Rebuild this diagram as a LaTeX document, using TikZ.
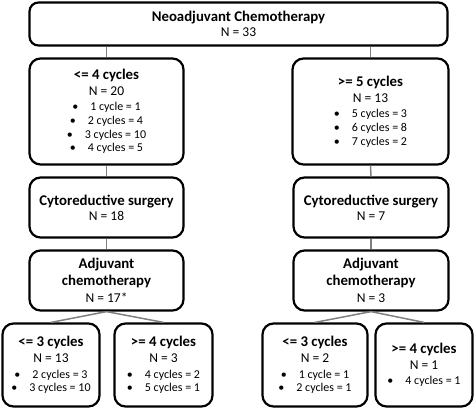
\documentclass[tikz,border=0pt]{standalone}
\usepackage{fontspec}
\setmainfont{Carlito}
\newcommand\boxtitle[1]{{\fontsize{14.8}{16}\selectfont\bfseries #1}}
\newcommand\nline[1]{{\fontsize{13.5}{15}\selectfont #1}}
\newcommand\bul[1]{{\fontsize{12}{13.7}\selectfont\textbullet\hspace{12pt}#1}}
\tikzset{
  box/.style={draw=black, line width=2.2pt, rounded corners=11pt, inner sep=0pt,
    align=center, font=\fontsize{11.5}{13.7}\selectfont},
  link/.style={draw=black!50, line width=1.5pt}
}
\begin{document}
\begin{tikzpicture}[x=1pt,y=-1pt]
\useasboundingbox (0,0) rectangle (474,409);
% top
\node[box, rounded corners=9pt, minimum width=418pt, minimum height=43pt] (top) at (238.5,24)
  {\boxtitle{Neoadjuvant Chemotherapy}\\[1.5pt]\nline{N = 33}};
% level 1
\node[box, minimum width=154pt, minimum height=106pt] (l1) at (106.5,111.5)
  {\boxtitle{<= 4 cycles}\\[2.5pt]\nline{N = 20}\\[1.5pt]
   \bul{1 cycle = 1}\\ \bul{2 cycles = 4}\\ \bul{3 cycles = 10}\\ \bul{4 cycles = 5}};
\node[box, minimum width=156pt, minimum height=106pt] (r1) at (370.5,111.5)
  {\boxtitle{>= 5 cycles}\\[2.5pt]\nline{N = 13}\\[1.5pt]
   \bul{5 cycles = 3}\\ \bul{6 cycles = 8}\\ \bul{7 cycles = 2}};
% level 2
\node[box, minimum width=154pt, minimum height=60pt] (l2) at (106.5,207.5)
  {\boxtitle{Cytoreductive surgery}\\[1.5pt]\nline{N = 18}};
\node[box, minimum width=155pt, minimum height=60pt] (r2) at (371,207.5)
  {\boxtitle{Cytoreductive surgery}\\[1.5pt]\nline{N = 7}};
% level 3
\node[box, minimum width=154pt, minimum height=60pt] (l3) at (106.5,280.5)
  {\boxtitle{Adjuvant}\\[3pt]\boxtitle{chemotherapy}\\[3pt]\nline{N = 17*}};
\node[box, minimum width=155pt, minimum height=60pt] (r3) at (371,280.5)
  {\boxtitle{Adjuvant}\\[3pt]\boxtitle{chemotherapy}\\[3pt]\nline{N = 3}};
% level 4
\node[box, minimum width=97pt, minimum height=83pt] (ll) at (51,365)
  {\boxtitle{<= 3 cycles}\\[2.5pt]\nline{N = 13}\\[1.5pt]
   \bul{2 cycles = 3}\\ \bul{3 cycles = 10}};
\node[box, minimum width=98pt, minimum height=83pt] (lr) at (163.5,365)
  {\boxtitle{>= 4 cycles}\\[2.5pt]\nline{N = 3}\\[1.5pt]
   \bul{4 cycles = 2}\\ \bul{5 cycles = 1}};
\node[box, minimum width=105pt, minimum height=83pt] (rl) at (315,365)
  {\boxtitle{<= 3 cycles}\\[2.5pt]\nline{N = 2}\\[1.5pt]
   \bul{1 cycle = 1}\\ \bul{2 cycles = 1}};
\node[box, minimum width=97pt, minimum height=83pt] (rr) at (424,365)
  {\boxtitle{>= 4 cycles}\\[2.5pt]\nline{N = 1}\\[1.5pt]
   \bul{4 cycles = 1}};
% connectors
\draw[link] (l1.north) -- (l1.north |- top.south);
\draw[link] (r1.north) -- (r1.north |- top.south);
\draw[link] (l1.south) -- (l2.north);
\draw[link] (r1.south) -- (r2.north);
\draw[link] (l2.south) -- (l3.north);
\draw[link] (r2.south) -- (r3.north);
\draw[link] (l3.south) -- (ll.north);
\draw[link] (l3.south) -- (lr.north);
\draw[link] (r3.south) -- (rl.north);
\draw[link] (r3.south) -- (rr.north);
\end{tikzpicture}
\end{document}
